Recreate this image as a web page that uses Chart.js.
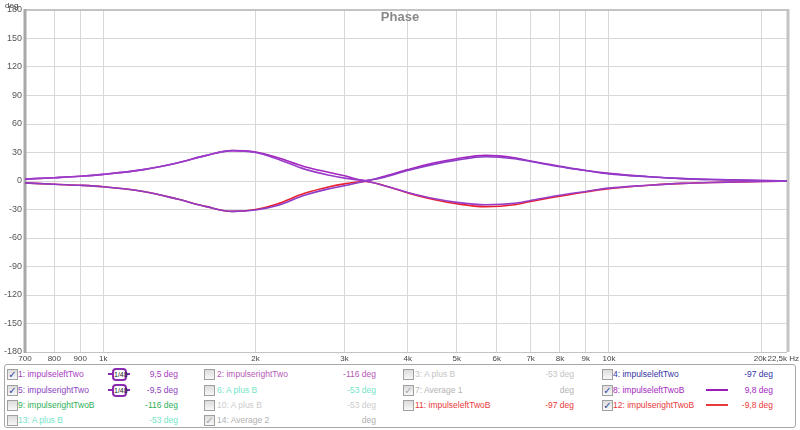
<!DOCTYPE html>
<html>
<head>
<meta charset="utf-8">
<script src="https://cdn.jsdelivr.net/npm/chart.js@4/dist/chart.umd.min.js"></script>
<style>
  body { margin: 0; background: #fff; font-family: "Liberation Sans", Arial, sans-serif; }
  #wrap { position: relative; width: 800px; height: 430px; }
  #myChart { display: block; }
  #legend { position: absolute; left: 4px; top: 364px; width: 790px; height: 62px;
            border: 1px solid #a8a8a8; border-radius: 3px; background: #fff; }
  .lbl, .val { position: absolute; font-size: 8.5px; line-height: 12px; white-space: nowrap; }
  .val { text-align: right; }
  .cb { position: absolute; width: 9px; height: 9px; border: 1px solid #a0a0a0;
        background: linear-gradient(#dcdcdc, #f8f8f8); font-size: 10px; line-height: 9px;
        text-align: center; font-family: "DejaVu Sans", sans-serif; }
  .smooth { position: absolute; width: 22px; height: 12px; }
  .smooth .ln { position: absolute; top: 5px; height: 2px; width: 22px; background: #8a2cb0; }
  .smooth .box { position: absolute; left: 4px; top: 0; width: 11px; height: 9px; border: 2px solid #8a2cb0;
        border-radius: 4px; background: #fff; font-size: 7px; line-height: 9px; color: #222; text-align: center; }
  .sample { position: absolute; width: 22px; height: 2px; }
</style>
</head>
<body>
<div id="wrap">
  <canvas id="myChart" width="800" height="430"></canvas>
  <div id="legend"></div>
</div>
<script>
// frequencies (Hz) the curves were read at
const freqs = [700, 800, 900, 1000, 1200, 1400, 1600, 1800, 2000, 2200, 2500, 2800, 3000, 3300, 3600,
               4000, 4500, 5000, 5700, 6500, 7000, 8000, 9000, 10000, 12000, 14000, 16000, 18000, 20000, 22500];

// phase in degrees
const impulseleftTwo   = [2, 3.5, 5, 7, 12, 19, 27, 32, 30, 23.5, 12.5, 6, 3, 0, -5,
                          -12, -18.5, -22.5, -25, -23.5, -20.5, -15, -11, -7.5, -4.5, -2.5, -1.5, -1, -0.5, 0];
const impulserightTwo  = [-2, -3.5, -4.5, -6, -11, -19, -27, -32, -30.5, -26, -15, -8, -5, 0, 4,
                          11, 17.5, 22, 25.5, 23.5, 20.5, 15, 11, 7.5, 4.5, 2.5, 1.5, 1, 0.5, 0];
const impulseleftTwoB  = [2, 3.5, 5, 7, 12, 19, 27, 32, 30.5, 25, 15, 9, 5.5, 0.5, 5,
                          12, 19, 23.5, 27, 24.5, 21, 15.5, 11, 8, 4.5, 2.5, 1.5, 1, 0.5, 0];
const impulserightTwoB = [-2, -3.5, -4.5, -6, -11, -19, -27, -32, -30, -24.5, -13, -6, -3, -0.5, -5,
                          -12.5, -19.5, -24, -27, -25, -21.5, -16, -11.5, -8, -4.5, -2.5, -1.5, -1, -0.5, 0];

const xTicks = [700, 800, 900, 1000, 2000, 3000, 4000, 5000, 6000, 7000, 8000, 9000, 10000, 20000, 22500];
const xTickLabels = ['700', '800', '900', '1k', '2k', '3k', '4k', '5k', '6k', '7k', '8k', '9k', '10k', '20k', '22,5k Hz'];

const pts = arr => freqs.map((f, i) => ({ x: f, y: arr[i] }));

const frame = {
  id: 'frame',
  beforeDatasetsDraw(chart) {
    const { ctx, chartArea: a } = chart;
    ctx.save();
    ctx.strokeStyle = '#c4c4c4';
    ctx.lineWidth = 1;
    ctx.beginPath(); ctx.moveTo(a.left, a.bottom + 0.5); ctx.lineTo(a.right, a.bottom + 0.5); ctx.stroke();
    ctx.lineWidth = 2;
    ctx.beginPath(); ctx.moveTo(a.left, a.top); ctx.lineTo(a.right + 1, a.top); ctx.stroke();
    ctx.lineWidth = 3;
    ctx.beginPath(); ctx.moveTo(a.right + 1, a.top - 1); ctx.lineTo(a.right + 1, a.bottom); ctx.stroke();
    ctx.strokeStyle = '#a8a8a8';
    ctx.beginPath(); ctx.moveTo(a.left, a.top - 1); ctx.lineTo(a.left, a.bottom + 1); ctx.stroke();
    ctx.restore();
  },
  afterDraw(chart) {
    const { ctx, chartArea: a } = chart;
    const xs = chart.scales.x;
    ctx.save();
    ctx.fillStyle = '#888';
    ctx.font = 'bold 13px "Liberation Sans", Arial, sans-serif';
    ctx.textAlign = 'center';
    ctx.textBaseline = 'middle';
    ctx.fillText('Phase', 400, 17);
    ctx.fillStyle = '#444';
    ctx.font = '8px "Liberation Sans", Arial, sans-serif';
    ctx.textAlign = 'left';
    ctx.textBaseline = 'top';
    ctx.fillText('deg', 5, 2);
    xTicks.forEach((v, i) => {
      let px = xs.getPixelForValue(v);
      ctx.textAlign = 'center';
      if (i === xTicks.length - 1) { ctx.textAlign = 'right'; px = 799; }
      if (i === xTicks.length - 2) { px -= 1; }
      ctx.fillText(xTickLabels[i], px, a.bottom + 3);
    });
    ctx.restore();
  }
};

const ctx = document.getElementById('myChart');
new Chart(ctx, {
  type: 'line',
  data: {
    datasets: [{
      label: '1: impulseleftTwo',
      data: pts(impulseleftTwo),
      borderColor: '#9a3cc8'
    }, {
      label: '5: impulserightTwo',
      data: pts(impulserightTwo),
      borderColor: '#8e3cc8'
    }, {
      label: '8: impulseleftTwoB',
      data: pts(impulseleftTwoB),
      borderColor: '#a424c0'
    }, {
      label: '12: impulserightTwoB',
      data: pts(impulserightTwoB),
      borderColor: '#e82030'
    }]
  },
  options: {
    responsive: false,
    animation: false,
    layout: { padding: { top: 10, right: 13, left: 0, bottom: 0 } },
    plugins: { legend: { display: false }, tooltip: { enabled: false } },
    elements: {
      point: { radius: 0 },
      line: { borderWidth: 1.6, cubicInterpolationMode: 'monotone' }
    },
    scales: {
      x: {
        type: 'logarithmic',
        min: 700,
        max: 22500,
        afterBuildTicks: s => { s.ticks = xTicks.map(v => ({ value: v })); },
        afterFit: s => { s.height = 78; },
        ticks: { display: false },
        grid: { color: '#d8d8d8', drawTicks: false },
        border: { display: false }
      },
      y: {
        min: -180,
        max: 180,
        afterFit: s => { s.width = 25; },
        ticks: { stepSize: 30, color: '#555', padding: 3, font: { size: 9, family: '"Liberation Sans", Arial, sans-serif' } },
        grid: { color: '#d8d8d8', drawTicks: false },
        border: { display: false }
      }
    }
  },
  plugins: [frame]
});

// legend panel below the plot
const legendItems = [
  // text, colour, value, checked, col, row, extra
  ['1: impulseleftTwo', '#a83cc0', '9,5 deg', 1, 0, 0, 'smooth'],
  ['2: impulserightTwo', '#b45ab4', '-116 deg', 0, 1, 0],
  ['3: A plus B', '#c4c4c4', '-53 deg', 0, 2, 0],
  ['4: impulseleftTwo', '#3434a4', '-97 deg', 0, 3, 0],
  ['5: impulserightTwo', '#8c44c0', '-9,5 deg', 1, 0, 1, 'smooth'],
  ['6: A plus B', '#74e4c8', '-53 deg', 0, 1, 1],
  ['7: Average 1', '#b4b4b4', 'deg', 2, 2, 1],
  ['8: impulseleftTwoB', '#a428c0', '9,8 deg', 1, 3, 1, '#9a1cb8'],
  ['9: impulserightTwoB', '#30b058', '-116 deg', 0, 0, 2],
  ['10: A plus B', '#cccccc', '-53 deg', 0, 1, 2],
  ['11: impulseleftTwoB', '#e83a3a', '-97 deg', 0, 2, 2],
  ['12: impulserightTwoB', '#e83a3a', '-9,8 deg', 1, 3, 2, '#e83a3a'],
  ['13: A plus B', '#74e4c8', '-53 deg', 0, 0, 3],
  ['14: Average 2', '#b0b0b0', 'deg', 2, 1, 3]
];
const colBox = [2, 199, 398, 597];
const colLabel = [13, 212, 410, 608];
const colValue = [173, 371, 569, 768];
const rowMid = [9, 25, 40, 55];
const lg = document.getElementById('legend');
legendItems.forEach(([text, color, value, checked, c, r, extra]) => {
  const y = rowMid[r];
  const cb = document.createElement('div');
  cb.className = 'cb';
  cb.style.left = colBox[c] + 'px';
  cb.style.top = (y - 5) + 'px';
  if (checked) {
    cb.textContent = '\u2713';
    cb.style.color = checked === 1 ? '#2c44a0' : '#a8a8a8';
  }
  lg.appendChild(cb);
  const l = document.createElement('div');
  l.className = 'lbl';
  l.style.left = colLabel[c] + 'px';
  l.style.top = (y - 6) + 'px';
  l.style.color = color;
  l.textContent = text;
  lg.appendChild(l);
  const v = document.createElement('div');
  v.className = 'val';
  v.style.right = (790 - colValue[c]) + 'px';
  v.style.top = (y - 6) + 'px';
  v.style.color = color;
  v.textContent = value;
  lg.appendChild(v);
  if (extra === 'smooth') {
    const s = document.createElement('div');
    s.className = 'smooth';
    s.style.left = (colLabel[c] + 90) + 'px';
    s.style.top = (y - 6) + 'px';
    s.innerHTML = '<div class="ln"></div><div class="box">1/48</div>';
    lg.appendChild(s);
  } else if (extra) {
    const s = document.createElement('div');
    s.className = 'sample';
    s.style.left = (colLabel[c] + 93) + 'px';
    s.style.top = (y - 1) + 'px';
    s.style.background = extra;
    lg.appendChild(s);
  }
});
</script>
</body>
</html>
